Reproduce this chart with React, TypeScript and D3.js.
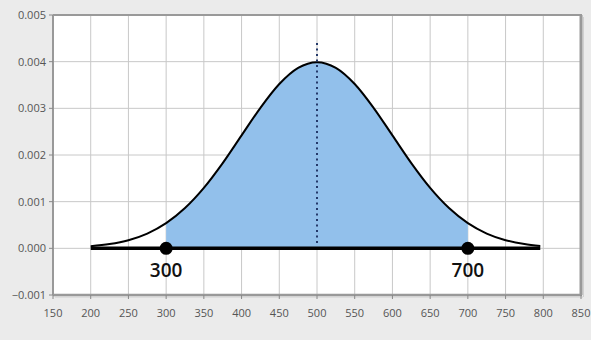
import React from "react";
import * as d3 from "d3";

// Density values (x, density)
const curveX = [200, 225, 250, 275, 300, 325, 350, 375, 400, 425, 450, 475, 500, 525, 550, 575, 600, 625, 650, 675, 700, 725, 750, 775, 796];
const curveY = [0.000044, 0.000091, 0.000175, 0.000317, 0.00054, 0.000863, 0.001295, 0.001826, 0.00242, 0.003011, 0.003521, 0.003867, 0.003989, 0.003867, 0.003521, 0.003011, 0.00242, 0.001826, 0.001295, 0.000863, 0.00054, 0.000317, 0.000175, 0.000091, 0.00005];
const boundsX = [300, 700];
const meanX = 500;
const meanLineTop = 0.0044;
const xTicks = [150, 200, 250, 300, 350, 400, 450, 500, 550, 600, 650, 700, 750, 800, 850];
const yTicks = [-0.001, 0, 0.001, 0.002, 0.003, 0.004, 0.005];

const W = 591, H = 340;
const L = 53, R = 581, T = 15, B = 295;

export default function App() {
  const x = d3.scaleLinear().domain([150, 850]).range([L, R]);
  const y = d3.scaleLinear().domain([-0.001, 0.005]).range([B, T]);
  const pts = curveX.map((v, i) => [v, curveY[i]] as [number, number]);
  const line = d3.line<[number, number]>().x(d => x(d[0])).y(d => y(d[1])).curve(d3.curveMonotoneX);
  const area = d3.area<[number, number]>().x(d => x(d[0])).y0(y(0)).y1(d => y(d[1])).curve(d3.curveMonotoneX);
  const shaded = pts.filter(p => p[0] >= boundsX[0] && p[0] <= boundsX[1]);
  const font = "'Open Sans', 'Noto Sans', sans-serif";
  return (
    <div style={{ position: "fixed", left: 0, top: 0 }}>
      <svg width={W} height={H} style={{ display: "block" }}>
        <rect x={0} y={0} width={W} height={H} fill="#ebebeb" />
        <rect x={L} y={T} width={R - L} height={B - T} fill="#fff" />
        {xTicks.slice(1, -1).map(t => (
          <line key={"gx" + t} x1={x(t)} x2={x(t)} y1={T} y2={B} stroke="#c8c8c8" strokeWidth={1} />
        ))}
        {yTicks.slice(1, -1).map(t => (
          <line key={"gy" + t} x1={L} x2={R} y1={y(t)} y2={y(t)} stroke="#c8c8c8" strokeWidth={1} />
        ))}
        <path d={area(shaded) || ""} fill="#92c0eb" />
        <path d={line(pts) || ""} fill="none" stroke="#000" strokeWidth={2} />
        <line x1={x(curveX[0])} x2={x(curveX[curveX.length - 1])} y1={y(0)} y2={y(0)} stroke="#000" strokeWidth={3.5} />
        <line x1={x(meanX)} x2={x(meanX)} y1={y(meanLineTop)} y2={y(0) - 4} stroke="#24396a" strokeWidth={2} strokeDasharray="2,3.5" />
        {boundsX.map(b => (
          <g key={"b" + b}>
            <circle cx={x(b)} cy={y(0)} r={6.5} fill="#000" />
            <text x={x(b)} y={y(0) + 29} textAnchor="middle" fontFamily={font} fontWeight={600} fontSize={19} fill="#111">{b}</text>
          </g>
        ))}
        {/* frame */}
        <line x1={L} x2={R + 1} y1={T} y2={T} stroke="#999" strokeWidth={2} />
        <line x1={R} x2={R} y1={T} y2={B} stroke="#999" strokeWidth={3} />
        <line x1={R + 2.5} x2={R + 2.5} y1={T + 2} y2={B + 2} stroke="#d0d0d0" strokeWidth={1} />
        <line x1={L} x2={L} y1={T} y2={B} stroke="#999" strokeWidth={2} />
        <line x1={L} x2={R + 1} y1={B} y2={B} stroke="#999" strokeWidth={2.5} />
        <line x1={L + 2} x2={R + 2} y1={B + 2} y2={B + 2} stroke="#d0d0d0" strokeWidth={1} />
        {yTicks.map(t => (
          <g key={"yt" + t}>
            <line x1={L - 4} x2={L} y1={y(t)} y2={y(t)} stroke="#888" strokeWidth={1} />
            <text x={L - 7} y={y(t)} dy="0.35em" textAnchor="end" fontFamily={font} fontSize={11} fill="#555">{d3.format(".3f")(t)}</text>
          </g>
        ))}
        {xTicks.map(t => (
          <g key={"xt" + t}>
            <line x1={x(t)} x2={x(t)} y1={B} y2={B + 4} stroke="#888" strokeWidth={1} />
            <text x={x(t)} y={B + 22} textAnchor="middle" fontFamily={font} fontSize={11} fill="#555">{t}</text>
          </g>
        ))}
      </svg>
    </div>
  );
}
